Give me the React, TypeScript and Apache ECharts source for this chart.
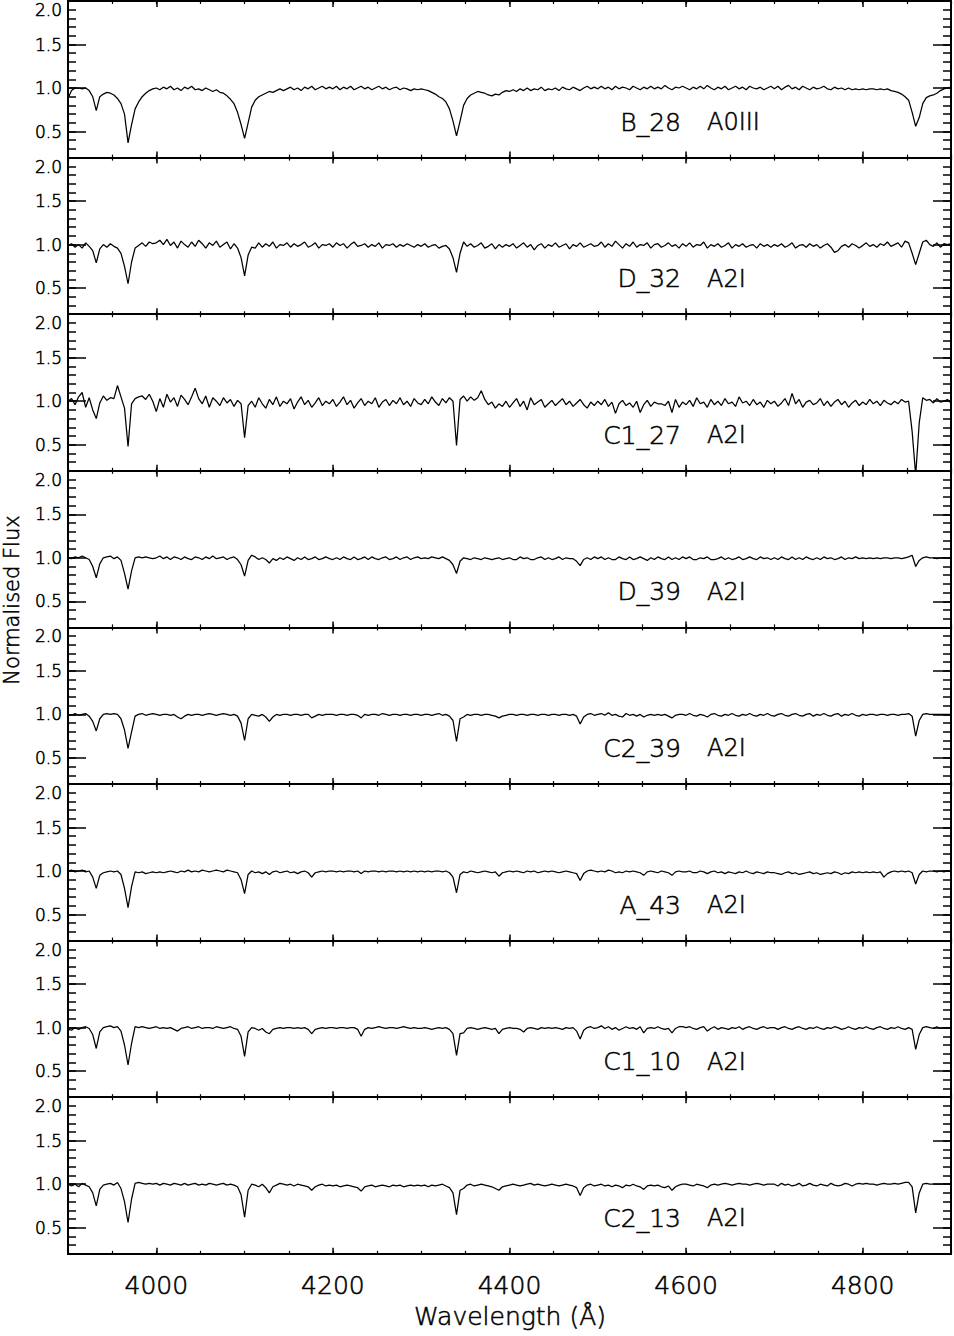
import React, { useEffect, useRef } from "react";
import * as echarts from "echarts";

// Wavelength sampling grid (Å): uniform 4 Å steps from 3900 to 4900
const WAVELENGTHS: number[] = Array.from({ length: 251 }, (_, i) => 3900 + 4 * i);

const X_MAJOR = [4000, 4200, 4400, 4600, 4800];
const Y_MAJOR = [0.5, 1.0, 1.5, 2.0];
const Y_LABELS = [0.5, 1.0, 1.5];

const STAR_NAMES = ["B_28", "D_32", "C1_27", "D_39", "C2_39", "A_43", "C1_10", "C2_13"];
const STAR_TYPES = ["A0III", "A2I", "A2I", "A2I", "A2I", "A2I", "A2I", "A2I"];

const FLUX_B28 = [
  0.88,0.97,1.00,1.00,0.99,1.00,0.97,0.90,0.74,0.90,0.93,0.95,0.94,0.92,0.88,0.82,0.70,0.37,0.58,0.76,0.84,0.90,0.94,0.97,0.99,
  1.00,0.98,1.01,0.99,1.02,0.98,1.00,0.97,1.01,0.99,1.02,0.98,0.99,0.97,1.00,0.98,0.96,0.98,0.95,0.94,0.91,0.87,0.82,0.72,0.58,
  0.42,0.60,0.78,0.86,0.90,0.92,0.94,0.96,0.95,0.97,0.99,0.97,0.99,1.01,0.98,1.00,0.97,1.01,0.99,1.02,0.98,1.00,1.02,0.99,1.01,
  0.99,1.02,0.98,1.01,0.99,1.02,0.98,1.00,1.02,0.99,1.01,0.98,1.00,1.02,0.99,1.01,0.98,1.00,1.01,0.98,1.00,0.99,0.97,0.99,0.98,
  0.99,0.98,0.97,0.95,0.93,0.90,0.88,0.84,0.76,0.62,0.45,0.62,0.80,0.88,0.92,0.94,0.96,0.95,0.94,0.92,0.91,0.93,0.92,0.95,0.97,
  0.96,0.98,0.96,0.99,0.97,1.00,0.97,0.99,0.98,1.01,0.97,0.99,0.98,1.00,0.97,1.01,0.99,0.98,1.01,0.99,0.97,1.00,1.02,0.99,1.01,
  0.99,1.02,0.99,1.01,0.98,1.02,0.99,1.01,1.00,0.98,1.02,1.00,0.98,1.01,0.99,1.02,0.99,1.01,0.99,1.03,1.00,0.98,1.01,1.00,1.02,
  1.00,0.98,1.01,0.99,1.02,0.99,1.03,1.00,0.98,1.01,0.99,1.02,0.98,1.00,1.02,0.99,1.01,0.98,1.02,1.00,0.99,1.01,0.98,1.00,1.02,
  0.99,1.02,0.98,1.01,1.03,0.99,1.01,0.98,1.02,1.00,0.98,1.01,0.99,1.00,1.02,0.99,0.98,1.01,0.99,1.00,0.98,1.00,0.98,0.99,0.98,
  0.99,0.98,0.99,0.99,0.98,0.99,0.98,0.99,0.97,0.96,0.95,0.93,0.90,0.86,0.72,0.56,0.66,0.82,0.89,0.91,0.92,0.94,0.97,0.99,1.00,
  1.01,
];

const FLUX_D32 = [
  0.99,1.01,0.97,1.00,0.96,1.02,0.98,0.93,0.79,0.95,1.00,0.97,1.01,0.98,0.96,0.90,0.75,0.55,0.80,0.96,0.99,1.02,0.98,1.03,1.01,
  1.02,1.05,1.00,1.06,0.99,1.03,0.96,1.04,1.00,0.97,1.03,0.98,1.05,1.01,0.96,1.02,0.99,1.04,0.97,1.00,1.03,0.95,1.01,0.96,0.85,
  0.64,0.88,0.97,0.96,1.02,0.97,1.01,0.98,1.03,0.96,1.00,0.99,1.02,0.97,1.01,0.98,1.00,1.03,0.97,0.99,1.02,0.96,1.00,0.99,1.01,
  0.97,1.02,0.99,1.01,0.96,1.00,1.03,0.98,0.99,1.01,0.97,1.00,0.98,1.02,0.96,1.00,0.99,1.01,0.97,1.00,0.98,1.01,0.99,0.97,1.00,
  0.98,1.01,0.97,0.99,1.00,0.96,0.98,0.99,0.95,0.85,0.68,0.90,1.03,0.98,1.01,0.97,0.99,1.02,0.96,0.98,1.01,0.95,1.00,0.97,1.00,
  0.98,1.01,0.96,0.99,1.02,0.97,1.00,0.94,0.99,1.01,0.96,1.00,0.98,1.02,0.97,0.99,1.01,0.95,1.00,0.98,1.02,0.97,0.99,1.01,0.98,
  0.99,1.03,0.97,1.01,0.98,1.04,1.00,0.96,1.01,0.98,1.03,0.97,1.00,0.99,1.02,0.96,1.00,1.01,0.97,0.99,1.02,0.98,1.00,0.96,1.01,
  0.98,1.02,0.97,1.00,0.99,1.03,0.96,1.00,0.98,1.01,0.97,0.99,1.02,0.96,1.00,0.98,1.01,0.97,0.99,1.00,0.96,1.01,0.98,1.00,0.97,
  1.00,0.98,1.01,0.97,0.99,1.02,0.96,0.99,1.00,0.97,1.01,0.98,1.00,0.96,0.99,1.01,0.97,0.91,0.93,0.98,1.00,0.97,1.01,0.99,0.96,
  0.99,1.02,0.98,1.00,0.97,1.01,0.99,1.03,0.98,1.00,1.02,0.97,1.04,1.02,0.90,0.77,0.90,1.03,1.05,1.00,0.98,1.02,0.97,1.01,1.00,
  1.01,
];

const FLUX_C1_27 = [
  1.00,1.03,0.96,1.05,1.10,0.93,1.04,0.90,0.80,0.98,1.06,1.01,1.04,1.03,1.18,1.05,0.92,0.48,0.97,1.03,1.05,1.06,1.02,1.08,1.00,
  0.88,1.03,0.93,1.08,0.99,1.04,0.94,1.07,1.02,0.96,1.05,1.15,1.03,0.97,1.06,0.93,1.04,1.00,0.95,1.04,0.98,1.02,0.94,1.01,0.97,
  0.58,0.95,1.00,0.93,1.04,0.97,0.92,1.02,0.96,1.05,0.94,1.00,0.97,1.03,0.91,0.99,1.05,0.96,1.01,0.93,0.98,1.04,0.95,1.00,0.97,
  1.02,0.94,0.99,1.05,0.96,1.01,0.92,0.98,1.03,0.95,1.00,0.97,1.04,0.93,0.99,1.02,0.95,1.01,0.97,1.04,0.96,1.00,0.94,1.03,0.98,
  0.96,1.02,0.97,1.05,0.99,0.95,1.03,0.98,1.04,1.00,0.49,1.02,1.06,1.00,1.05,1.01,1.04,1.12,1.02,0.96,0.99,0.92,0.97,0.94,1.00,
  0.93,0.98,1.03,0.94,1.00,0.90,1.04,0.96,0.99,1.02,0.93,0.97,1.01,0.95,0.99,1.03,0.96,1.00,0.94,0.98,1.02,0.96,0.92,0.99,0.95,
  1.00,0.96,1.02,0.94,0.99,0.86,0.97,1.01,0.95,0.98,0.93,1.00,0.87,0.96,1.01,0.94,0.99,0.97,0.97,0.95,1.00,0.87,1.02,0.93,0.99,
  0.96,1.01,0.94,1.04,0.97,0.99,0.93,1.02,0.96,1.00,0.95,1.03,0.97,0.99,0.94,1.05,0.98,1.00,0.95,1.02,0.96,0.99,0.93,1.01,0.97,
  1.00,0.94,0.98,1.03,0.95,1.09,0.97,1.02,0.93,0.99,1.01,0.96,0.98,1.03,0.95,1.00,0.94,0.99,1.02,0.96,1.00,0.93,0.98,1.01,0.95,
  0.99,0.96,1.02,0.97,1.00,0.95,1.01,0.98,0.96,1.00,0.97,1.02,0.99,1.00,0.65,0.15,0.75,1.04,1.01,1.02,0.98,1.03,0.99,1.00,1.02,
  0.98,
];

const FLUX_D39 = [
  1.00,0.99,1.01,1.00,1.02,1.00,0.98,0.90,0.77,0.93,1.00,1.01,1.02,0.99,1.01,0.97,0.82,0.64,0.85,1.00,1.01,1.00,1.01,1.00,0.99,
  1.00,1.02,0.99,1.01,0.98,1.01,1.00,0.98,1.01,0.99,0.98,1.01,1.00,0.98,1.01,0.99,1.02,0.99,1.00,1.01,0.98,1.00,1.01,0.98,0.92,
  0.79,0.97,1.03,1.01,0.98,1.00,0.98,0.94,0.99,0.97,1.00,0.98,1.01,0.99,0.97,1.00,0.98,1.01,0.98,0.99,1.01,0.98,0.99,1.01,0.99,
  0.98,1.00,0.98,1.01,0.99,0.98,1.01,0.98,0.99,1.01,0.98,1.01,0.99,0.98,1.00,1.01,0.98,0.99,1.01,0.98,1.00,1.01,0.98,1.00,1.01,
  0.99,1.00,0.99,1.01,1.00,0.99,1.01,0.99,0.97,0.92,0.82,0.96,1.00,0.99,0.98,1.00,0.99,0.98,1.00,0.99,0.98,0.99,1.00,0.98,0.99,
  1.00,0.98,0.98,1.01,0.99,1.00,0.98,0.98,1.00,1.01,0.98,1.00,0.98,0.99,1.01,0.98,1.00,0.99,0.99,0.96,0.91,0.98,1.00,0.98,1.01,
  0.99,1.01,0.98,1.00,0.98,0.98,1.01,0.99,0.98,1.01,0.98,0.99,1.01,0.99,0.97,1.00,0.98,1.01,0.99,0.98,1.01,0.98,1.00,0.98,1.01,
  0.99,1.01,0.98,0.98,1.00,0.99,1.01,0.98,0.98,0.99,1.01,0.98,1.00,0.98,0.99,1.01,0.98,0.99,1.01,0.99,0.98,1.01,0.99,1.00,0.98,
  1.00,0.98,1.01,0.99,0.98,1.01,0.98,1.00,0.98,1.01,0.99,0.98,1.00,0.98,1.01,0.99,1.00,0.98,0.99,1.01,0.98,1.00,0.99,1.01,0.99,
  1.00,0.99,1.00,0.99,1.00,0.99,1.00,1.00,0.99,1.00,1.00,0.99,1.00,1.01,1.03,0.90,0.97,1.00,1.01,1.00,1.00,0.99,1.00,1.00,1.00,
  1.00,
];

const FLUX_C2_39 = [
  1.00,0.99,1.01,0.99,1.00,1.01,0.98,0.92,0.81,0.95,1.00,1.01,1.00,1.01,1.00,0.95,0.82,0.61,0.80,0.98,1.00,1.01,0.99,1.00,1.01,
  1.00,0.99,1.00,1.00,0.99,1.00,0.97,0.95,0.98,1.00,0.99,1.00,1.00,0.99,1.00,1.01,1.00,0.99,1.00,1.01,1.00,0.99,1.00,0.98,0.90,
  0.70,0.95,1.00,0.99,0.98,1.00,0.97,0.92,0.97,1.00,0.99,1.00,1.00,0.99,1.00,1.00,0.99,1.00,1.00,0.96,0.98,1.00,0.99,1.00,1.00,
  1.00,0.99,1.00,1.00,0.99,1.00,1.00,0.99,0.96,1.00,0.99,1.00,1.00,0.99,1.01,1.00,0.99,1.00,1.00,0.99,1.00,1.00,0.99,1.00,1.00,
  0.99,1.00,1.00,0.99,1.00,1.01,0.99,1.00,0.98,0.93,0.69,0.95,0.97,1.00,0.99,1.00,1.00,0.99,1.00,1.00,0.99,0.98,0.96,0.98,0.99,
  1.00,1.00,0.99,1.00,1.00,0.99,1.00,1.00,0.99,1.00,1.00,0.99,1.00,1.00,0.99,1.00,1.00,0.99,1.00,0.98,0.89,0.97,1.00,1.01,0.99,
  1.00,1.01,0.99,1.02,0.99,1.00,0.98,0.97,1.01,0.99,1.00,0.98,1.00,0.97,0.99,1.00,0.99,1.00,0.99,1.00,0.98,0.96,0.99,1.00,1.00,
  0.99,1.01,0.99,0.98,1.00,0.99,0.97,1.00,1.01,0.99,0.98,1.00,0.99,1.01,0.99,0.98,1.00,0.99,1.01,0.99,0.98,1.00,0.99,1.01,0.99,
  0.98,1.00,1.01,0.99,0.98,1.00,1.01,0.99,0.98,1.00,1.01,0.98,1.00,0.99,1.01,0.99,0.98,1.00,1.01,0.98,1.00,0.99,1.01,0.99,0.98,
  1.00,0.99,1.00,1.00,0.99,1.00,1.00,0.99,1.00,1.00,0.99,1.00,1.00,1.01,0.98,0.75,0.93,1.00,1.01,1.00,1.00,1.00,1.00,1.00,1.00,
  1.00,
];

const FLUX_A43 = [
  1.00,1.01,0.99,1.00,1.01,0.99,1.00,0.93,0.80,0.95,0.98,0.99,1.00,0.99,1.00,0.96,0.80,0.58,0.82,0.99,0.98,0.99,0.97,0.98,0.99,
  0.98,0.99,0.98,0.99,1.00,0.99,0.98,1.00,0.99,1.01,0.99,1.00,0.99,1.01,1.00,0.99,1.00,1.01,1.00,0.99,1.01,1.00,0.99,0.98,0.90,
  0.74,0.96,1.00,0.98,0.99,0.97,0.99,0.96,0.99,1.00,0.98,0.99,1.00,0.98,0.99,0.97,0.99,1.00,0.98,0.93,0.98,0.99,1.00,0.99,1.00,
  1.00,0.99,1.00,0.99,1.00,1.00,0.99,1.00,0.97,1.00,0.99,1.00,1.00,0.99,1.00,0.99,1.00,1.00,0.99,1.00,0.99,1.00,0.99,1.00,0.99,
  1.00,0.99,1.00,0.99,1.00,1.00,0.99,1.00,0.98,0.93,0.75,0.96,0.99,0.98,1.00,0.99,0.98,0.99,1.00,0.99,0.98,0.99,0.94,0.98,0.99,
  1.00,0.99,1.00,0.99,0.98,1.00,0.99,1.00,0.98,0.99,1.00,0.99,1.00,0.99,0.98,0.99,1.00,0.99,0.98,0.97,0.89,0.97,1.00,1.01,1.00,
  0.99,1.00,0.99,1.01,1.00,0.98,0.99,0.98,1.00,0.99,1.00,0.99,0.98,0.95,0.99,1.00,0.99,0.98,1.00,0.99,0.98,0.95,0.99,1.00,0.99,
  0.99,1.00,0.98,0.98,1.00,0.99,0.97,0.99,1.00,0.98,0.99,0.97,0.99,0.98,0.97,0.99,0.98,1.00,0.98,0.97,0.99,0.98,0.97,0.99,0.98,
  0.98,0.97,0.96,0.98,0.99,0.97,0.98,0.96,0.97,0.98,0.99,0.97,0.98,0.96,0.97,0.98,0.97,0.99,0.98,0.96,0.98,0.97,0.99,0.98,0.99,
  0.98,0.99,0.98,0.99,0.98,0.99,0.93,0.97,0.99,1.00,0.99,1.00,0.99,1.00,0.98,0.85,0.96,1.00,0.99,1.00,1.00,0.99,1.00,0.99,1.00,
  1.00,
];

const FLUX_C1_10 = [
  0.98,0.97,1.00,0.98,1.00,1.01,0.99,0.92,0.76,0.95,1.00,1.01,1.02,1.00,1.01,0.96,0.80,0.57,0.82,1.01,1.00,1.01,1.00,0.99,1.00,
  1.01,0.99,1.00,0.99,1.00,0.98,0.96,0.99,1.00,1.01,0.99,1.00,1.01,0.99,1.00,1.00,0.99,1.01,1.00,0.99,1.00,1.01,0.99,0.98,0.90,
  0.67,0.95,1.00,0.99,0.97,0.99,0.95,0.93,0.98,0.99,1.00,0.99,1.00,1.00,0.99,1.00,0.99,1.00,0.98,0.93,0.98,0.99,1.00,0.99,1.00,
  1.00,0.99,1.00,1.00,0.99,1.00,1.00,0.98,0.90,0.98,1.00,0.99,1.00,1.01,1.00,0.99,1.00,1.00,0.99,1.00,1.01,1.00,0.99,1.00,0.99,
  0.99,1.00,0.99,0.98,0.99,1.00,0.99,1.00,0.98,0.93,0.68,0.93,0.94,0.99,1.00,0.99,0.98,0.99,1.00,0.99,0.98,0.99,0.93,0.98,0.99,
  1.00,0.99,0.99,0.98,0.95,0.99,1.00,0.99,0.98,1.00,0.99,1.00,0.99,1.00,0.99,0.98,1.00,0.99,1.00,0.96,0.87,0.97,1.00,1.01,0.99,
  1.00,1.02,0.99,1.01,0.98,1.00,0.97,0.99,1.01,0.99,1.00,0.98,1.01,0.94,0.99,1.00,0.99,1.01,0.99,0.98,0.99,0.94,0.99,1.01,1.01,
  1.00,1.01,0.99,0.98,1.00,1.01,0.96,0.99,1.01,0.98,1.00,0.99,0.98,1.00,0.99,1.01,0.98,1.00,1.01,0.99,0.98,1.00,1.01,0.99,1.00,
  1.00,0.98,1.00,1.01,0.99,0.98,1.00,1.01,0.99,0.98,1.00,0.99,1.01,0.99,0.98,1.00,0.99,1.01,1.00,0.98,0.99,1.01,0.99,0.98,1.00,
  0.99,1.01,0.99,0.98,1.00,1.01,0.99,0.98,1.00,0.99,1.01,0.99,0.98,1.00,0.98,0.75,0.92,1.00,1.01,1.00,0.99,1.01,0.99,1.00,1.00,
  1.00,
];

const FLUX_C2_13 = [
  1.00,0.98,1.00,0.97,1.01,0.99,0.97,0.90,0.75,0.94,0.99,1.00,1.01,0.99,1.02,0.95,0.80,0.56,0.83,1.01,1.02,1.01,1.00,1.01,1.00,
  1.01,0.99,1.01,1.00,0.99,1.01,1.00,0.99,1.01,0.99,1.00,1.01,0.99,1.00,0.99,1.01,1.00,0.99,1.00,1.01,0.99,1.00,0.99,0.97,0.88,
  0.62,0.93,1.00,0.99,0.97,1.00,0.96,0.90,0.97,0.99,1.01,1.00,0.99,1.00,0.98,1.00,0.99,0.98,0.97,0.93,0.97,0.99,1.00,0.98,0.99,
  0.98,0.99,0.97,0.98,0.99,0.98,0.97,0.96,0.92,0.97,0.98,0.99,0.97,0.98,0.99,0.98,0.97,0.99,0.98,0.99,0.97,0.98,0.99,0.98,0.99,
  0.98,0.99,0.97,0.99,0.98,0.99,1.00,0.98,0.96,0.90,0.65,0.93,0.95,0.99,1.00,0.98,0.99,1.00,0.99,0.98,0.97,0.95,0.93,0.97,0.98,
  0.99,1.00,0.99,0.98,0.99,1.00,1.01,0.99,1.00,0.99,0.98,0.99,1.00,0.99,0.98,0.99,1.00,0.99,0.98,0.96,0.87,0.96,0.99,1.00,0.98,
  0.99,1.00,0.98,0.99,0.97,0.99,0.98,0.96,0.99,0.98,1.00,0.98,0.97,0.94,0.98,0.99,0.98,0.99,0.97,0.96,0.98,0.93,0.97,0.99,1.00,
  1.00,0.99,0.98,1.00,0.99,0.98,0.96,0.99,1.00,0.99,1.00,1.01,1.00,0.99,1.00,1.01,1.00,1.00,0.99,1.00,1.01,1.00,0.99,1.00,1.00,
  1.00,0.98,1.01,0.99,1.00,0.98,0.99,1.01,0.98,0.99,1.01,0.99,0.98,1.00,0.99,0.98,1.01,0.99,0.98,0.99,1.01,1.00,0.98,1.00,1.01,
  1.00,1.01,1.00,1.00,0.99,1.00,1.01,1.00,1.00,1.01,1.00,1.01,1.02,1.02,0.97,0.67,0.90,1.00,1.01,1.00,1.00,1.00,1.00,1.00,1.00,
  1.00,
];

const SPECTRA = [FLUX_B28, FLUX_D32, FLUX_C1_27, FLUX_D39, FLUX_C2_39, FLUX_A43, FLUX_C1_10, FLUX_C2_13];

// Layout (pixels)
const CHART_W = 954;
const CHART_H = 1336;
const PLOT_LEFT = 68;
const PLOT_WIDTH = 883;
const PLOT_TOP = 1;
const PANEL_H = 156.6;
const FONT = "DejaVu Sans";
const INK = "#000";
const THIN = 200;
const BORDER = 0.55;

function buildOption() {
  const grids: any[] = [];
  const xAxes: any[] = [];
  const yAxes: any[] = [];
  const series: any[] = [];
  const graphics: any[] = [];

  const axisLine = { show: true, lineStyle: { color: INK, width: 2 } };
  const labelFont = (size: number) => ({
    fontFamily: FONT,
    fontWeight: THIN,
    fontSize: size,
    color: INK,
    textBorderColor: INK,
    textBorderWidth: BORDER,
  });
  const textStyle = (text: string, size: number, align: string) => ({
    text,
    fontFamily: FONT,
    fontWeight: THIN,
    fontSize: size,
    fill: INK,
    stroke: INK,
    lineWidth: BORDER,
    align,
    textAlign: align,
    verticalAlign: "middle",
    textVerticalAlign: "middle",
  });

  SPECTRA.forEach((flux, p) => {
    const top = PLOT_TOP + p * PANEL_H;
    const gridBase = {
      left: PLOT_LEFT,
      top,
      width: PLOT_WIDTH,
      height: PANEL_H,
      containLabel: false,
      outerBoundsMode: "none",
    };
    grids.push({ ...gridBase }); // minor-tick grid (2p)
    grids.push({ ...gridBase }); // major-tick grid (2p+1)

    const isLast = p === SPECTRA.length - 1;

    const xMinor = (position: string) => ({
      type: "value",
      gridIndex: 2 * p,
      position,
      min: 3900,
      max: 4900,
      interval: 50,
      axisLine,
      axisTick: { show: true, inside: true, length: 3, lineStyle: { color: INK, width: 1.2 } },
      axisLabel: { show: false },
      splitLine: { show: false },
    });
    const xMajor = (position: string, labels: boolean) => ({
      type: "value",
      gridIndex: 2 * p + 1,
      position,
      min: 3900,
      max: 4900,
      axisLine,
      axisTick: {
        show: true,
        inside: true,
        length: 6,
        customValues: X_MAJOR,
        lineStyle: { color: INK, width: 1.5 },
      },
      axisLabel: {
        show: labels,
        customValues: X_MAJOR,
        ...labelFont(25),
        margin: 19,
        formatter: (v: number) => String(v),
      },
      splitLine: { show: false },
    });
    xAxes.push(xMinor("bottom"));
    xAxes.push(xMinor("top"));
    xAxes.push(xMajor("bottom", isLast));
    xAxes.push(xMajor("top", false));

    // left minor axis also carries the "2.0" label, set just below the top tick
    const yMinor = (position: string, topLabel: boolean) => ({
      type: "value",
      gridIndex: 2 * p,
      position,
      min: 0.2,
      max: 2.0,
      interval: 0.1,
      axisLine,
      axisTick: { show: true, inside: true, length: 8, lineStyle: { color: INK, width: 1.5 } },
      axisLabel: {
        show: topLabel,
        ...labelFont(17),
        lineHeight: 18,
        margin: 6,
        verticalAlign: "top",
        formatter: (v: number) => (Math.abs(v - 2) < 1e-6 ? "2.0" : ""),
      },
      splitLine: { show: false },
    });
    const yMajor = (position: string, labels: boolean) => ({
      type: "value",
      gridIndex: 2 * p + 1,
      position,
      min: 0.2,
      max: 2.0,
      axisLine,
      axisTick: {
        show: true,
        inside: true,
        length: 18,
        customValues: Y_MAJOR,
        lineStyle: { color: INK, width: 1.5 },
      },
      axisLabel: {
        show: labels,
        customValues: Y_LABELS,
        ...labelFont(17),
        margin: 6,
        formatter: (v: number) => v.toFixed(1),
      },
      splitLine: { show: false },
    });
    yAxes.push(yMinor("left", true));
    yAxes.push(yMinor("right", false));
    yAxes.push(yMajor("left", true));
    yAxes.push(yMajor("right", false));

    series.push({
      type: "line",
      name: STAR_NAMES[p],
      xAxisIndex: 4 * p + 2,
      yAxisIndex: 4 * p + 2,
      data: WAVELENGTHS.map((w, i) => [w, flux[i]]),
      showSymbol: false,
      symbol: "none",
      clip: true,
      silent: true,
      z: 3,
      lineStyle: { color: INK, width: 1.25 },
    });

    const labelY = top + 121;
    graphics.push({ type: "text", x: 681, y: labelY, style: textStyle(STAR_NAMES[p], 25, "right") });
    graphics.push({ type: "text", x: 707, y: labelY, style: textStyle(STAR_TYPES[p], 24, "left") });
  });

  graphics.push({ type: "text", x: 510, y: 1316, style: textStyle("Wavelength (Å)", 25, "center") });
  graphics.push({
    type: "text",
    x: 12,
    y: 600,
    rotation: Math.PI / 2,
    style: textStyle("Normalised Flux", 21, "center"),
  });

  return {
    animation: false,
    backgroundColor: "#fff",
    grid: grids,
    xAxis: xAxes,
    yAxis: yAxes,
    series,
    graphic: graphics,
  };
}

export default function App() {
  const ref = useRef<HTMLDivElement>(null);
  useEffect(() => {
    if (!ref.current) return;
    const chart = echarts.init(ref.current, undefined, { renderer: "svg" });
    chart.setOption(buildOption() as any);
    return () => chart.dispose();
  }, []);
  return (
    <div
      ref={ref}
      style={{ position: "absolute", left: 0, top: 0, width: CHART_W, height: CHART_H }}
    />
  );
}
